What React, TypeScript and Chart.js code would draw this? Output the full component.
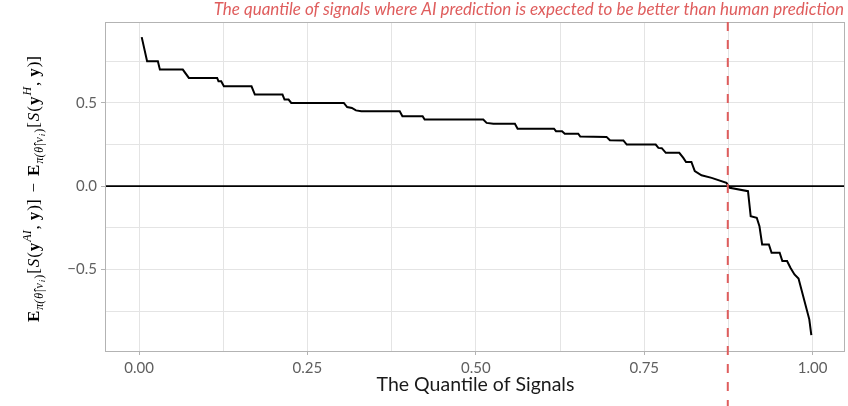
import React, { useEffect, useRef } from "react";
import { Chart, registerables } from "chart.js";

Chart.register(...registerables);

// ---- data ----
const quantiles = [
  0.004, 0.012, 0.028, 0.031, 0.065, 0.074, 0.116, 0.118, 0.122, 0.126,
  0.167, 0.172, 0.213, 0.216, 0.222, 0.226, 0.304, 0.309, 0.316, 0.322,
  0.33, 0.387, 0.391, 0.421, 0.424, 0.511, 0.516, 0.526, 0.558, 0.562,
  0.616, 0.619, 0.628, 0.632, 0.652, 0.655, 0.694, 0.699, 0.719, 0.724,
  0.767, 0.771, 0.776, 0.782, 0.802, 0.808, 0.812, 0.82, 0.825, 0.835,
  0.85, 0.872, 0.877, 0.904, 0.908, 0.917, 0.921, 0.925, 0.935, 0.939,
  0.951, 0.955, 0.962, 0.967, 0.973, 0.979, 0.995, 0.998,
];
const scoreDiffs = [
  0.895, 0.75, 0.75, 0.7, 0.7, 0.65, 0.65, 0.63, 0.63, 0.6,
  0.6, 0.55, 0.55, 0.52, 0.52, 0.5, 0.5, 0.475, 0.47, 0.455,
  0.45, 0.45, 0.42, 0.42, 0.4, 0.4, 0.38, 0.375, 0.375, 0.345,
  0.345, 0.33, 0.33, 0.315, 0.315, 0.298, 0.296, 0.276, 0.275, 0.25,
  0.25, 0.23, 0.228, 0.2, 0.2, 0.17, 0.145, 0.145, 0.09, 0.065,
  0.05, 0.02, -0.01, -0.03, -0.18, -0.19, -0.24, -0.35, -0.35, -0.4,
  -0.4, -0.45, -0.45, -0.49, -0.53, -0.555, -0.8, -0.895,
];
const xGridValues = [0, 0.125, 0.25, 0.375, 0.5, 0.625, 0.75, 0.875, 1];
const xTickLabels = [0, 0.25, 0.5, 0.75, 1];
const yGridValues = [-0.75, -0.5, -0.25, 0, 0.25, 0.5, 0.75];
const yTickLabels = [-0.5, 0, 0.5];
const cutoffQuantile = 0.874;
const annotationText =
  "The quantile of signals where AI prediction is expected to be better than human prediction";
const xAxisTitle = "The Quantile of Signals";

const SANS = "Lato, 'Open Sans', sans-serif";
const SERIF = "'Liberation Serif', 'DejaVu Serif', serif";
const RED = "#df5d5d";

type Seg = { t: string; w?: string; s?: string; size: number; dy: number };
const expectation = (sup: string): Seg[] => [
  { t: "E", w: "bold", size: 17, dy: 0 },
  { t: "π(", s: "italic", size: 12, dy: 4 },
  { t: "θ̂", s: "italic", size: 12, dy: 4 },
  { t: "|", size: 12, dy: 4 },
  { t: "v", s: "italic", size: 12, dy: 4 },
  { t: "i", s: "italic", size: 9, dy: 6 },
  { t: ")", size: 12, dy: 4 },
  { t: "[", size: 17, dy: 0 },
  { t: "S", s: "italic", size: 17, dy: 0 },
  { t: "(", size: 17, dy: 0 },
  { t: "y", w: "bold", size: 17, dy: 0 },
  { t: sup, s: "italic", size: 12, dy: -8 },
  { t: ",", size: 17, dy: 0 },
  { t: "y", w: "bold", size: 17, dy: 0 },
  { t: ")]", size: 17, dy: 0 },
];
const yTitleSegs: Seg[] = [
  ...expectation("AI"),
  { t: "−", size: 17, dy: 0 },
  ...expectation("H"),
];

const segFont = (g: Seg) => `${g.s || "normal"} ${g.w || "normal"} ${g.size}px ${SERIF}`;

const decorations = {
  id: "decorations",
  afterDatasetsDraw(chart: any) {
    const { ctx, chartArea: a, scales } = chart;
    const x = scales.x;
    const y = scales.y;
    ctx.save();
    // zero line
    const y0 = y.getPixelForValue(0);
    ctx.strokeStyle = "#000";
    ctx.lineWidth = 1.6;
    ctx.beginPath();
    ctx.moveTo(a.left, y0);
    ctx.lineTo(a.right, y0);
    ctx.stroke();
    // panel border
    ctx.strokeStyle = "#b3b3b3";
    ctx.lineWidth = 1;
    ctx.strokeRect(Math.round(a.left) - 0.5, Math.round(a.top) + 0.5, Math.round(a.right - a.left), Math.round(a.bottom - a.top));
    // dashed cutoff line
    const xc = x.getPixelForValue(cutoffQuantile);
    ctx.strokeStyle = RED;
    ctx.lineWidth = 2;
    ctx.setLineDash([9, 9]);
    ctx.beginPath();
    ctx.moveTo(xc, a.top);
    ctx.lineTo(xc, chart.height);
    ctx.stroke();
    ctx.restore();
  },
  afterDraw(chart: any) {
    const { ctx, chartArea: a } = chart;
    ctx.save();
    // annotation (fitted to the span it has in the reference)
    ctx.fillStyle = RED;
    ctx.font = `italic 16px ${SANS}`;
    const w16 = ctx.measureText(annotationText).width;
    const annSize = Math.min(17, (16 * (a.right - 196)) / w16);
    ctx.font = `italic ${annSize.toFixed(2)}px ${SANS}`;
    ctx.textAlign = "right";
    ctx.textBaseline = "alphabetic";
    ctx.fillText(annotationText, a.right - 1, 15);
    // x title
    ctx.fillStyle = "#1a1a1a";
    ctx.font = `19.5px ${SANS}`;
    ctx.textAlign = "center";
    ctx.textBaseline = "middle";
    ctx.fillText(xAxisTitle, (a.left + a.right) / 2, 385);
    // y title (math)
    let total = 0;
    const widths = yTitleSegs.map((g) => {
      ctx.font = segFont(g);
      const w = ctx.measureText(g.t).width;
      total += w;
      return w;
    });
    const gaps = yTitleSegs.map((g, i) => {
      if (i === 0) return 0;
      const prev = yTitleSegs[i - 1];
      if (g.t === "−" || prev.t === "−") return 6;
      if (prev.t === ",") return 4;
      return 0;
    });
    const fixedGap = gaps.reduce((s, v) => s + v, 0);
    const spread = Math.max(0, (266 - total - fixedGap) / (yTitleSegs.length - 1));
    const fullLen = total + fixedGap + spread * (yTitleSegs.length - 1);
    ctx.translate(39, 189);
    ctx.rotate(-Math.PI / 2);
    ctx.fillStyle = "#000";
    ctx.textAlign = "left";
    ctx.textBaseline = "alphabetic";
    let cx = -fullLen / 2;
    yTitleSegs.forEach((g, i) => {
      if (i > 0) cx += gaps[i] + spread;
      ctx.font = segFont(g);
      ctx.fillText(g.t, cx, g.dy);
      cx += widths[i];
    });
    ctx.restore();
  },
};

export default function App() {
  const ref = useRef<HTMLCanvasElement | null>(null);
  useEffect(() => {
    document.body.style.margin = "0";
    const canvas = ref.current;
    if (!canvas) return;
    const gridColor = "#e4e4e4";
    const chart = new Chart(canvas, {
      type: "line",
      data: {
        datasets: [
          {
            data: quantiles.map((q, i) => ({ x: q, y: scoreDiffs[i] })),
            borderColor: "#000",
            borderWidth: 2,
            pointRadius: 0,
            tension: 0,
            fill: false,
          },
        ],
      },
      options: {
        responsive: false,
        animation: false,
        devicePixelRatio: 1,
        layout: { padding: { top: 22, right: 3, left: 0, bottom: 0 } },
        plugins: { legend: { display: false }, tooltip: { enabled: false } },
        scales: {
          x: {
            type: "linear",
            min: -0.049,
            max: 1.048,
            afterBuildTicks: (s: any) => {
              s.ticks = xGridValues.map((v) => ({ value: v }));
            },
            afterFit: (s: any) => {
              s.height = 55;
            },
            border: { display: false },
            grid: {
              color: gridColor,
              lineWidth: 1,
              tickLength: 4,
              tickColor: (c: any) => (xTickLabels.includes(c.tick?.value) ? "#b3b3b3" : "rgba(0,0,0,0)"),
            },
            ticks: {
              autoSkip: false,
              maxRotation: 0,
              padding: 4,
              color: "#5f5f5f",
              font: { family: SANS, size: 15 },
              callback: (v: any) => (xTickLabels.includes(v) ? Number(v).toFixed(2) : ""),
            },
          },
          y: {
            type: "linear",
            min: -0.99,
            max: 0.986,
            afterBuildTicks: (s: any) => {
              s.ticks = yGridValues.map((v) => ({ value: v }));
            },
            afterFit: (s: any) => {
              s.width = 106;
            },
            border: { display: false },
            grid: {
              color: gridColor,
              lineWidth: 1,
              tickLength: 5,
              tickColor: (c: any) => (yTickLabels.includes(c.tick?.value) ? "#b3b3b3" : "rgba(0,0,0,0)"),
            },
            ticks: {
              autoSkip: false,
              padding: 4,
              color: "#5f5f5f",
              font: { family: SANS, size: 15 },
              callback: (v: any) =>
                yTickLabels.includes(v) ? (v < 0 ? "−" : "") + Math.abs(Number(v)).toFixed(1) : "",
            },
          },
        },
      },
      plugins: [decorations],
    });
    return () => chart.destroy();
  }, []);
  return (
    <div style={{ width: 848, height: 406 }}>
      <canvas ref={ref} width={848} height={406} />
    </div>
  );
}
